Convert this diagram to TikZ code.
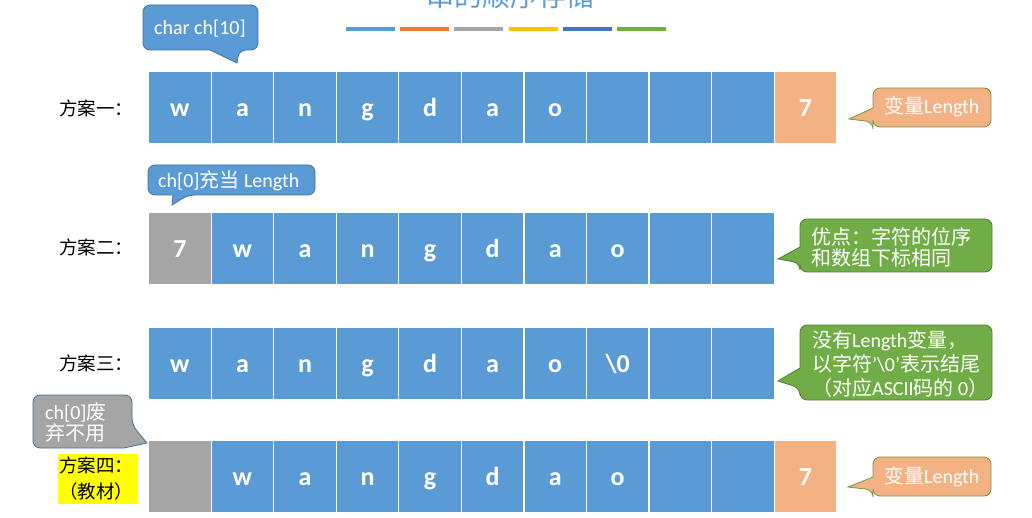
\documentclass[tikz,border=0pt]{standalone}
\usepackage{fontspec}
\setmainfont{Carlito}
\newfontfamily\cjk{Noto Sans CJK SC}
\definecolor{cblue}{HTML}{5B9BD5}
\definecolor{corange}{HTML}{F4B183}
\definecolor{cgray}{HTML}{A5A5A5}
\definecolor{cgreen}{HTML}{70AD47}
\definecolor{cdblue}{HTML}{41719C}
\definecolor{cdgreen}{HTML}{507E32}
\definecolor{colive}{HTML}{6F9A3F}
\definecolor{barorange}{HTML}{ED7D31}
\definecolor{bargold}{HTML}{FFC000}
\definecolor{bardblue}{HTML}{4472C4}
\definecolor{labyellow}{HTML}{FFFF00}
\tikzset{
  cell/.style={draw=white, line width=1.2pt, fill=cblue, minimum width=62.55pt, minimum height=72pt,
    inner sep=0pt, anchor=north west, text=white, text height=22pt, text depth=4pt,
    font=\bfseries\fontsize{26}{26}\selectfont},
  rowlabel/.style={font=\cjk\fontsize{18.5}{20}\selectfont, anchor=west, inner sep=0pt, text=black},
  calltext/.style={text=white, font=\fontsize{20}{22}\selectfont, anchor=west, inner sep=0pt, align=left},
  callout/.style={rounded corners=7pt, line width=0.8pt},
  bar/.style={minimum width=49pt, minimum height=4.5pt, inner sep=0pt, anchor=west},
  titletext/.style={font=\cjk\fontsize{28}{28}\selectfont, text=cblue, anchor=base, inner sep=0pt}
}
\begin{document}
\begin{tikzpicture}[x=1pt,y=-1pt]
\useasboundingbox (0,0) rectangle (1032,518);
% title and colour bars
\node[titletext] (title) at (510,7) {串的顺序存储};
\foreach \c [count=\i] in {cblue,barorange,cgray,bargold,bardblue,cgreen}
  \node[bar, fill=\c] (bar\i) at ({346+(\i-1)*54.1},29) {};

% row 1
\foreach \t [count=\i] in {w,a,n,g,d,a,o,{},{},{}}
  \node[cell] (r1c\i) at ({148+(\i-1)*62.55},71) {\t};
\node[cell, fill=corange] (r1c11) at ({148+10*62.55},71) {7};
% row 2
\node[cell, fill=cgray] (r2c1) at (148,212) {7};
\foreach \t [count=\i from 2] in {w,a,n,g,d,a,o,{},{}}
  \node[cell] (r2c\i) at ({148+(\i-1)*62.55},212) {\t};
% row 3
\foreach \t [count=\i] in {w,a,n,g,d,a,o,{\textbackslash0},{},{}}
  \node[cell] (r3c\i) at ({148+(\i-1)*62.55},327) {\t};
% row 4
\node[cell, fill=cgray] (r4c1) at (148,440) {};
\foreach \t [count=\i from 2] in {w,a,n,g,d,a,o,{},{}}
  \node[cell] (r4c\i) at ({148+(\i-1)*62.55},440) {\t};
\node[cell, fill=corange] (r4c11) at ({148+10*62.55},440) {7};

% row labels
\node[rowlabel] (lab1) at (59,108) {方案一：};
\node[rowlabel] (lab2) at (59,247) {方案二：};
\node[rowlabel] (lab3) at (59,363) {方案三：};
\node[font=\cjk\fontsize{18.5}{26}\selectfont, fill=labyellow, anchor=north west, text width=78pt,
  align=left, inner xsep=1pt, inner ysep=3pt, minimum height=49pt] (lab4) at (58,454) {方案四：\\（教材）};

% callout shapes
\draw[callout, fill=cblue, draw=cdblue] (143,5) -- (258,5) -- (258,50) -- (239,50) [sharp corners] -- (237,63) -- (210,50) [rounded corners=7pt] -- (143,50) -- cycle;
\draw[callout, fill=corange, draw=colive] (873,88) -- (991,88) -- (991,127) -- (873,127) -- (873,122) [sharp corners] -- (849,119) -- (873,108) [rounded corners=7pt] -- cycle;
\draw[callout, fill=cgreen, draw=cdgreen] (800,219) -- (992,219) -- (992,272) -- (800,272) -- (800,263) [sharp corners] -- (778,259) -- (800,247) [rounded corners=7pt] -- cycle;
\draw[callout, fill=cgreen, draw=cdgreen] (800,325) -- (992,325) -- (992,400) -- (800,400) -- (800,388) [sharp corners] -- (778,381) -- (800,368) [rounded corners=7pt] -- cycle;
\draw[callout, fill=corange, draw=colive] (873,457) -- (991,457) -- (991,496) -- (873,496) -- (873,490) [sharp corners] -- (848,487) -- (873,477) [rounded corners=7pt] -- cycle;
\draw[callout, fill=cgray, draw=cdblue] (33,395) -- (132,395) -- (132,425) [sharp corners] -- (147,443) -- (124,448) [rounded corners=7pt] -- (33,448) -- cycle;
\draw[callout, fill=cblue, draw=cdblue] (148,165) -- (315,165) -- (315,195) -- (188,195) [sharp corners] -- (172,205) -- (173,195) [rounded corners=7pt] -- (148,195) -- cycle;

% callout texts
\node[calltext] (tA) at (154,29) {char ch[10]};
\node[calltext] (tB) at (884,107) {{\cjk 变量}Length};
\node[calltext, font=\fontsize{20}{21}\selectfont] (tC) at (811,247.5) {{\cjk 优点：字符的位序}\\{\cjk 和数组下标相同}};
\node[calltext, font=\fontsize{20}{24}\selectfont] (tD) at (812,364) {{\cjk 没有}Length{\cjk 变量，}\\{\cjk 以字符}'\textbackslash0'{\cjk 表示结尾}\\{\cjk （对应}ASCII{\cjk 码的} 0{\cjk ）}};
\node[calltext] (tE) at (884,477) {{\cjk 变量}Length};
\node[calltext, font=\fontsize{20}{21}\selectfont] (tF) at (45,422) {ch[0]{\cjk 废}\\{\cjk 弃不用}};
\node[calltext] (tG) at (158,181) {ch[0]{\cjk 充当} Length};
\end{tikzpicture}
\end{document}
